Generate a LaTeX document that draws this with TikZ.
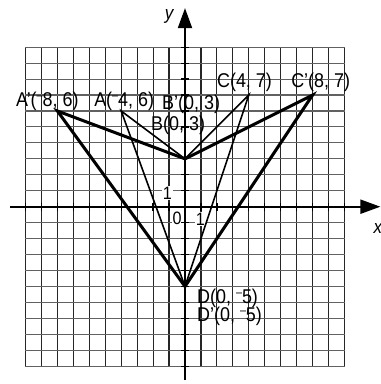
\documentclass[tikz,border=0pt]{standalone}
\usepackage{fontspec}
\setmainfont{Liberation Sans}[FakeStretch=0.9]
\usetikzlibrary{arrows.meta}
\newcommand{\sm}{\raisebox{0.33em}{\fontsize{12}{12}\selectfont –}}
\tikzset{
  gridv/.style={line width=1.1bp, black!85},
  gridh/.style={line width=1.1bp, black!62},
  axisline/.style={line width=2bp, black, -{Triangle[length=20bp,width=14bp]}},
  tickmark/.style={line width=1.2bp, black},
  thickpoly/.style={line width=3bp, black, line join=miter},
  thinpoly/.style={line width=1.6bp, black, line join=miter},
  ptlabel/.style={anchor=base west, inner sep=0pt, font=\fontsize{20}{20}\selectfont},
  ticklabel/.style={fill=white, inner sep=0.6bp, font=\fontsize{18}{18}\selectfont},
  axlabel/.style={font=\fontsize{19}{19}\selectfont\itshape, inner sep=0pt}
}
\begin{document}
\begin{tikzpicture}[x=15.95bp,y=15.95bp]
\useasboundingbox (-185bp,-177.3bp) rectangle (196bp,206.7bp);
% grid
\foreach \i in {-10,...,10} {
  \draw[gridv] (\i,-10) -- (\i,10);
}
\foreach \j in {-10,...,10} {
  \draw[gridh] (-10,\j) -- (10,\j);
}
% tick labels
\node[ticklabel] (one-y) at (-1.1,0.86) {1};
\node[ticklabel] (zero) at (-0.5,-0.7) {0};
\node[ticklabel] (one-x) at (0.97,-0.77) {1};
% axes
\coordinate (xl) at (-10.97,0);
\coordinate (xr) at (12.25,0);
\coordinate (yb) at (0,-10.87);
\coordinate (yt) at (0,12.45);
\draw[axisline] (xl) -- (xr);
\draw[axisline] (yb) -- (yt);
\foreach \i in {-10,...,-1,1,2,...,10} {
  \draw[tickmark] (\i,-0.25) -- (\i,0.25);
  \draw[tickmark] (-0.25,\i) -- (0.25,\i);
}
\node[axlabel] (ylab) at (-1.0,11.95) {y};
\node[axlabel] (xlab) at (12.1,-1.35) {x};
% points
\coordinate (A) at (-4,6);
\coordinate (B) at (0,3);
\coordinate (C) at (4,7);
\coordinate (D) at (0,-5);
\coordinate (Ap) at (-8,6);
\coordinate (Bp) at (0,3);
\coordinate (Cp) at (8,7);
\coordinate (Dp) at (0,-5);
\draw[thickpoly] (Ap) -- (Bp) -- (Cp) -- (Dp) -- cycle;
\draw[thinpoly] (A) -- (B) -- (C) -- (D) -- cycle;
% labels
\node[ptlabel] (lAp) at (-10.6,6.3) {A'(\sm8, 6)};
\node[ptlabel] (lA) at (-5.7,6.3) {A(\sm4, 6)};
\node[ptlabel] (lBp) at (-1.44,6.08) {B'(0, 3)};
\node[ptlabel] (lB) at (-2.13,4.8) {B(0, 3)};
\node[ptlabel] (lC) at (2.0,7.49) {C(4, 7)};
\node[ptlabel] (lCp) at (6.65,7.49) {C'(8, 7)};
\node[ptlabel] (lD) at (0.75,-6.06) {D(0, \sm5)};
\node[ptlabel] (lDp) at (0.75,-7.2) {D'(0, \sm5)};
\end{tikzpicture}
\end{document}
